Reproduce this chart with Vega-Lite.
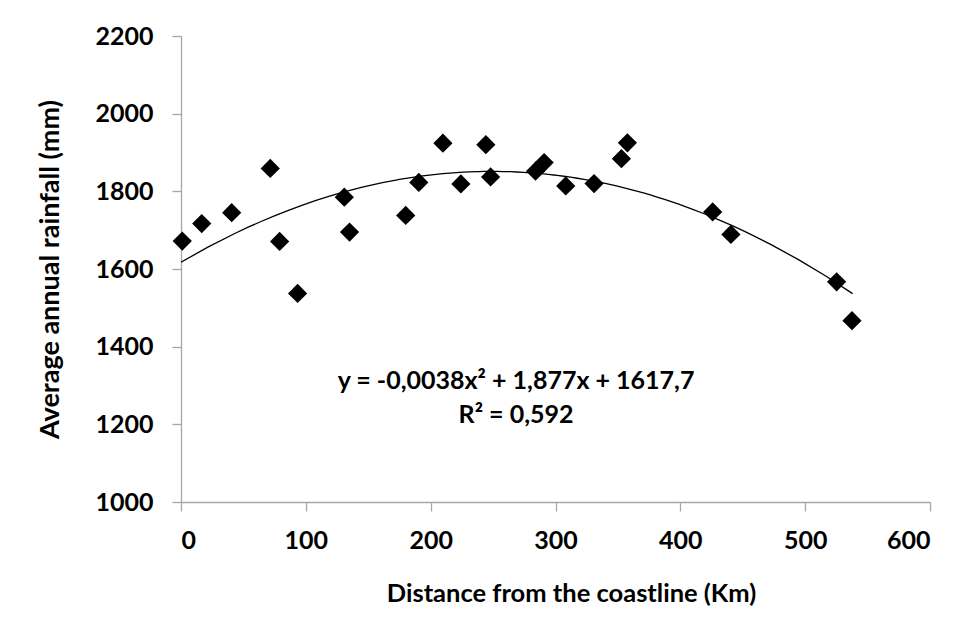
{
  "$schema": "https://vega.github.io/schema/vega-lite/v6.json",
  "width": 749,
  "height": 466,
  "autosize": {"type": "none"},
  "padding": {"left": 181, "top": 36, "right": 38, "bottom": 135},
  "background": "white",
  "config": {
    "view": {"stroke": null},
    "font": "Lato",
    "axis": {
      "domainColor": "#a6a6a6",
      "domainWidth": 1.3,
      "tickColor": "#a6a6a6",
      "tickWidth": 1.3,
      "tickSize": 9,
      "grid": false,
      "labelFont": "Lato",
      "labelFontSize": 25,
      "labelFontWeight": "bold",
      "labelColor": "#000000",
      "titleFont": "Lato",
      "titleFontSize": 25.5,
      "titleFontWeight": "bold",
      "titleColor": "#000000"
    }
  },
  "datasets": {
    "pts": [
      {"dist": 1, "rain": 1672},
      {"dist": 16.6, "rain": 1717},
      {"dist": 40.6, "rain": 1745},
      {"dist": 71.5, "rain": 1859},
      {"dist": 79, "rain": 1671},
      {"dist": 93.4, "rain": 1537},
      {"dist": 130.8, "rain": 1785},
      {"dist": 135, "rain": 1695},
      {"dist": 180, "rain": 1738},
      {"dist": 190.5, "rain": 1823},
      {"dist": 209.8, "rain": 1924},
      {"dist": 224.2, "rain": 1819},
      {"dist": 244.2, "rain": 1920},
      {"dist": 248, "rain": 1837},
      {"dist": 284, "rain": 1852},
      {"dist": 290.9, "rain": 1874},
      {"dist": 308.2, "rain": 1814},
      {"dist": 330.9, "rain": 1820},
      {"dist": 352.8, "rain": 1884},
      {"dist": 357.6, "rain": 1925},
      {"dist": 425.9, "rain": 1747},
      {"dist": 440.5, "rain": 1689},
      {"dist": 525.2, "rain": 1567},
      {"dist": 537.5, "rain": 1467}
    ],
    "labels": [
      {"dist": 268.4, "rain": 1311, "text": "y = -0,0038x² + 1,877x + 1617,7"},
      {"dist": 268.4, "rain": 1223, "text": "R² = 0,592"}
    ]
  },
  "layer": [
    {
      "data": {"name": "pts"},
      "transform": [
        {"regression": "rain", "on": "dist", "method": "poly", "order": 2, "extent": [0, 538]}
      ],
      "mark": {"type": "line", "color": "#000000", "strokeWidth": 1.3, "clip": true},
      "encoding": {
        "x": {
          "field": "dist", "type": "quantitative",
          "scale": {"domain": [0, 600], "nice": false, "zero": false},
          "axis": {"values": [0, 100, 200, 300, 400, 500, 600], "format": "d", "title": "Distance from the coastline (Km)", "labelPadding": 17, "titlePadding": 28, "titleX": 390}
        },
        "y": {
          "field": "rain", "type": "quantitative",
          "scale": {"domain": [1000, 2200], "nice": false, "zero": false},
          "axis": {"values": [1000, 1200, 1400, 1600, 1800, 2000, 2200], "format": "d", "title": "Average annual rainfall (mm)", "titleFontSize": 27, "labelPadding": 19, "titlePadding": 30}
        }
      }
    },
    {
      "data": {"name": "pts"},
      "mark": {"type": "point", "shape": "diamond", "filled": true, "color": "#000000", "size": 370, "opacity": 1},
      "encoding": {
        "x": {"field": "dist", "type": "quantitative"},
        "y": {"field": "rain", "type": "quantitative"}
      }
    },
    {
      "data": {"name": "labels"},
      "mark": {"type": "text", "font": "Lato", "fontSize": 25, "fontWeight": "bold", "color": "#000000", "align": "center", "baseline": "middle"},
      "encoding": {
        "x": {"field": "dist", "type": "quantitative"},
        "y": {"field": "rain", "type": "quantitative"},
        "text": {"field": "text"}
      }
    }
  ]
}
